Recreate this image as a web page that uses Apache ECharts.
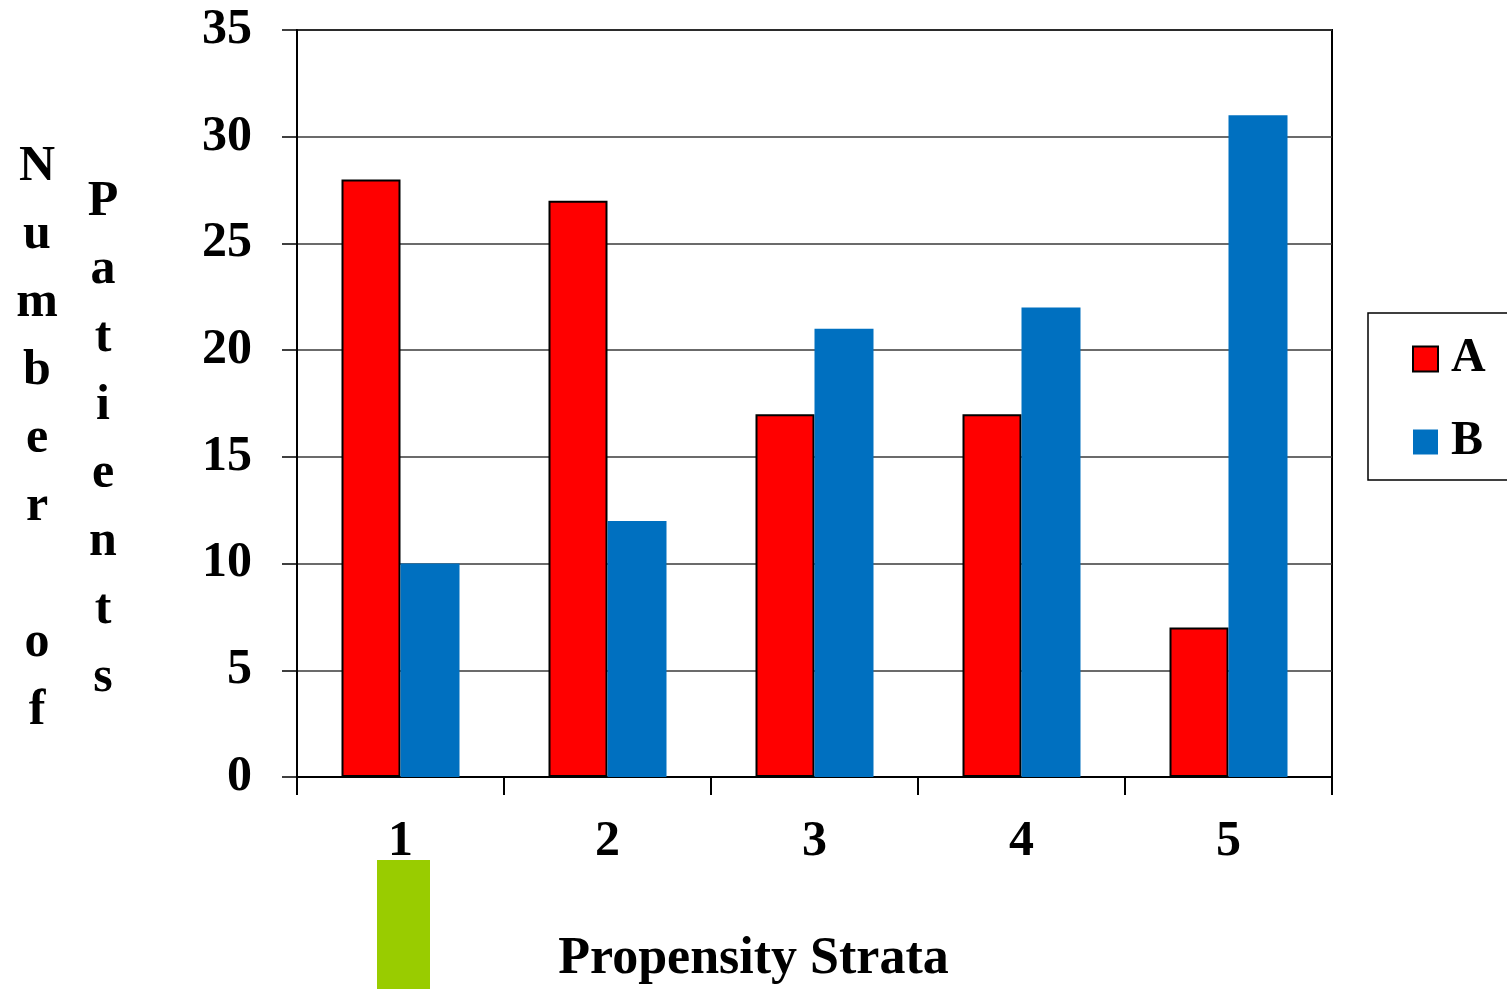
<!DOCTYPE html>
<html>
<head>
<meta charset="utf-8">
<title>Propensity Strata</title>
<script src="https://cdn.jsdelivr.net/npm/echarts@6/dist/echarts.min.js"></script>
<style>
  html, body { margin: 0; padding: 0; background: #ffffff; }
  #chart { width: 1507px; height: 989px; }
</style>
</head>
<body>
<div id="chart"></div>
<script>
// Patient counts per propensity stratum, two treatment groups
const strata = ['1', '2', '3', '4', '5'];
const groupA = [28, 27, 17, 17, 7];
const groupB = [10, 12, 21, 22, 31];
const seriesNames = ['A', 'B'];
const yTicks = { min: 0, max: 35, interval: 5 };
const yNameColumns = ['N\nu\nm\nb\ne\nr\n\no\nf', 'P\na\nt\ni\ne\nn\nt\ns'];
const xName = 'Propensity Strata';

const serif = "'Liberation Serif', 'Times New Roman', 'DejaVu Serif', serif";

const chart = echarts.init(document.getElementById('chart'), null, { renderer: 'canvas' });

chart.setOption({
  backgroundColor: '#ffffff',
  animation: false,
  title: {
    text: xName,
    left: 'center',
    top: 934,
    padding: 0,
    textStyle: { fontFamily: serif, fontWeight: 'bold', fontSize: 52, color: '#000' }
  },
  legend: {
    data: seriesNames,
    orient: 'vertical',
    left: 1368,
    top: 313,
    padding: [22, 80, 14, 44],
    itemWidth: 25,
    itemHeight: 25,
    itemGap: 35,
    backgroundColor: '#ffffff',
    borderColor: '#000000',
    borderWidth: 1.5,
    icon: 'rect',
    textStyle: { fontFamily: serif, fontWeight: 'bold', fontSize: 48, color: '#000', padding: [0, 0, 0, 8] }
  },
  grid: {
    left: 297, right: 175, top: 30, bottom: 212,
    show: true,
    borderColor: '#000000',
    borderWidth: 2,
    backgroundColor: 'transparent'
  },
  xAxis: {
    type: 'category',
    data: strata,
    boundaryGap: true,
    axisLine: { show: true, lineStyle: { color: '#000', width: 2 } },
    axisTick: { show: true, inside: false, length: 18, lineStyle: { color: '#000', width: 2 } },
    axisLabel: { margin: 40, fontFamily: serif, fontWeight: 'bold', fontSize: 50, color: '#000' },
    splitLine: { show: false }
  },
  yAxis: {
    type: 'value',
    min: yTicks.min,
    max: yTicks.max,
    interval: yTicks.interval,
    axisLine: { show: true, lineStyle: { color: '#000', width: 2 } },
    axisTick: { show: true, inside: false, length: 15, lineStyle: { color: '#000', width: 1.5 } },
    axisLabel: { margin: 45, fontFamily: serif, fontWeight: 'bold', fontSize: 50, color: '#000' },
    splitLine: { show: true, lineStyle: { color: '#3a3a3a', width: 1.5 } }
  },
  series: [
    {
      name: seriesNames[0],
      type: 'bar',
      data: groupA,
      barWidth: 59,
      barGap: '0%',
      itemStyle: { color: '#ff0000', borderColor: '#000000', borderWidth: 2 }
    },
    {
      name: seriesNames[1],
      type: 'bar',
      data: groupB,
      barWidth: 59,
      barGap: '0%',
      itemStyle: { color: '#0070c0', borderWidth: 0 }
    }
  ],
  graphic: [
    {
      // axis title, first column: "Number of"
      type: 'text',
      x: 37,
      y: 439,
      style: {
        text: yNameColumns[0],
        fontFamily: serif, fontWeight: 'bold', fontSize: 50,
        lineHeight: 68,
        fill: '#000',
        align: 'center',
        verticalAlign: 'middle'
      }
    },
    {
      // axis title, second column: "Patients"
      type: 'text',
      x: 103,
      y: 440,
      style: {
        text: yNameColumns[1],
        fontFamily: serif, fontWeight: 'bold', fontSize: 50,
        lineHeight: 68,
        fill: '#000',
        align: 'center',
        verticalAlign: 'middle'
      }
    },
    {
      type: 'rect',
      shape: { x: 377, y: 860, width: 53, height: 129 },
      style: { fill: '#99cc00' }
    }
  ]
});
</script>
</body>
</html>
